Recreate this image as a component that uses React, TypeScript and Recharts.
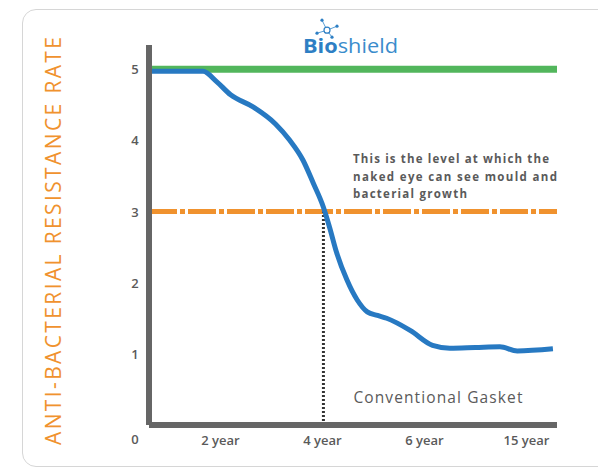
import { ComposedChart, Line, XAxis, YAxis, ReferenceLine } from 'recharts'

// position along the time axis (0 = origin) and resistance rate
const years = [0, 0.53, 0.66, 0.8, 1.02, 1.24, 1.38, 1.51, 1.61, 1.71, 1.77, 1.84, 1.94, 2.04, 2.14, 2.24, 2.33, 2.56, 2.78, 2.95, 3.2, 3.44, 3.61, 3.96]
const rates = [4.97, 4.97, 4.83, 4.64, 4.47, 4.23, 4.0, 3.72, 3.4, 3.06, 2.78, 2.42, 2.04, 1.76, 1.59, 1.54, 1.5, 1.33, 1.12, 1.08, 1.09, 1.1, 1.04, 1.07]

const yearTicks = [0.7, 1.7, 2.7, 3.7]
const yearLabels = ['2 year', '4 year', '6 year', '15 year']
const rateTicks = [0, 1, 2, 3, 4, 5]

const bioshieldLevel = 5
const visibleLevel = 3
const crossingYear = 1.71
const noteLines = ['This is the level at which the', 'naked eye can see mould and', 'bacterial growth']
const noteWidths = [196, 204, 114]

const data = years.map((x, i) => ({ x, rate: rates[i] }))

const GREY = '#5a5a5a'
const FONT = '"Open Sans", "DejaVu Sans", sans-serif'

function YTick(props: any) {
  const { x, y, payload } = props
  const zero = payload.value === 0
  return (
    <text
      x={x - 6}
      y={zero ? y + 14 : y}
      textAnchor="middle"
      dominantBaseline="central"
      fill={GREY}
      fontFamily={FONT}
      fontWeight={600}
      fontSize={13}
    >
      {payload.value}
    </text>
  )
}

function XTick(props: any) {
  const { x, y, payload } = props
  const i = yearTicks.indexOf(payload.value)
  return (
    <text x={x} y={y + 7} textAnchor="middle" dominantBaseline="central" fill={GREY} fontFamily={FONT} fontWeight={600} fontSize={13}>
      {yearLabels[i]}
    </text>
  )
}

function YTitle(props: any) {
  const { viewBox } = props
  const cx = viewBox.x + 53
  const cy = viewBox.y + viewBox.height / 2 + 6
  return (
    <text
      x={cx}
      y={cy}
      transform={`rotate(-90 ${cx} ${cy})`}
      textAnchor="middle"
      dominantBaseline="central"
      fill="#f0922e"
      fontFamily={FONT}
      fontSize={21}
      fontWeight={500}
      textLength={408}
      lengthAdjust="spacing"
    >
      ANTI-BACTERIAL RESISTANCE RATE
    </text>
  )
}

function Logo(props: any) {
  const { viewBox } = props
  const x = viewBox.x + 154
  const y = viewBox.y - 16
  const cx = viewBox.x + 178
  const cy = viewBox.y - 39
  const dots = [
    [-5, -10],
    [10, -4],
    [-10, 3],
    [5, 7],
  ]
  return (
    <g>
      {dots.map(([dx, dy], i) => (
        <g key={i}>
          <line x1={cx} y1={cy} x2={cx + dx} y2={cy + dy} stroke="#5aa0d6" strokeWidth={1} />
          <circle cx={cx + dx} cy={cy + dy} r={1.6} fill="#2e7fc4" />
        </g>
      ))}
      <circle cx={cx} cy={cy} r={3} fill="#fff" stroke="#2e7fc4" strokeWidth={1.2} />
      <text x={x} y={y} fill="#2e7fc4" fontFamily={FONT} fontSize={20} textLength={95} lengthAdjust="spacingAndGlyphs">
        <tspan fontWeight={700}>Bio</tspan>
        <tspan fontWeight={400} fill="#3a8ccc">shield</tspan>
      </text>
    </g>
  )
}

function Note(props: any) {
  const { viewBox } = props
  const x = viewBox.x + 204
  return (
    <g>
      {noteLines.map((t, i) => (
        <text
          key={i}
          x={x}
          y={viewBox.y - 53 + i * 17.5}
          dominantBaseline="central"
          fill={GREY}
          fontFamily={FONT}
          fontWeight={700}
          fontSize={11.5}
          textLength={noteWidths[i]}
          lengthAdjust="spacing"
        >
          {t}
        </text>
      ))}
    </g>
  )
}

function GasketLabel(props: any) {
  const { viewBox } = props
  return (
    <text
      x={viewBox.x + 30}
      y={viewBox.y + viewBox.height - 28}
      dominantBaseline="central"
      fill={GREY}
      fontFamily={FONT}
      fontSize={15.5}
      fontWeight={500}
      textLength={169}
      lengthAdjust="spacing"
    >
      Conventional Gasket
    </text>
  )
}

export default function App() {
  return (
    <div style={{ position: 'fixed', left: 0, top: 0, width: 598, height: 472, background: '#fff', overflow: 'hidden' }}>
      <div
        style={{
          position: 'absolute',
          left: 22,
          top: 9,
          width: 620,
          height: 456,
          border: '1.5px solid #d6d6d6',
          borderRadius: 14,
        }}
      />
      <div style={{ position: 'absolute', left: 0, top: 0 }}>
        <ComposedChart width={598} height={472} data={data} margin={{ top: 45, right: 41, left: 0, bottom: 17 }}>
          <XAxis
            type="number"
            dataKey="x"
            domain={[0, 4]}
            ticks={yearTicks}
            tick={<XTick />}
            tickLine={false}
            axisLine={{ stroke: '#666', strokeWidth: 6 }}
            height={30}
            interval={0}
          />
          <YAxis
            type="number"
            domain={[0, 5.34]}
            ticks={rateTicks}
            tick={<YTick />}
            tickLine={false}
            axisLine={{ stroke: '#666', strokeWidth: 6 }}
            width={149}
            interval={0}
            label={<YTitle />}
          />
          <ReferenceLine y={bioshieldLevel} stroke="#52b65c" strokeWidth={7} label={<Logo />} />
          <ReferenceLine
            y={visibleLevel}
            stroke="#f0922e"
            strokeWidth={5}
            strokeDasharray="28 3 5 3"
            label={<Note />}
          />
          <ReferenceLine
            segment={[
              { x: crossingYear, y: 0 },
              { x: crossingYear, y: visibleLevel },
            ]}
            stroke="#333"
            strokeWidth={3}
            strokeDasharray="2 2"
            label={<GasketLabel />}
          />
          <Line
            type="monotone"
            dataKey="rate"
            stroke="#2779c2"
            strokeWidth={5}
            dot={false}
            isAnimationActive={false}
          />
        </ComposedChart>
      </div>
    </div>
  )
}
